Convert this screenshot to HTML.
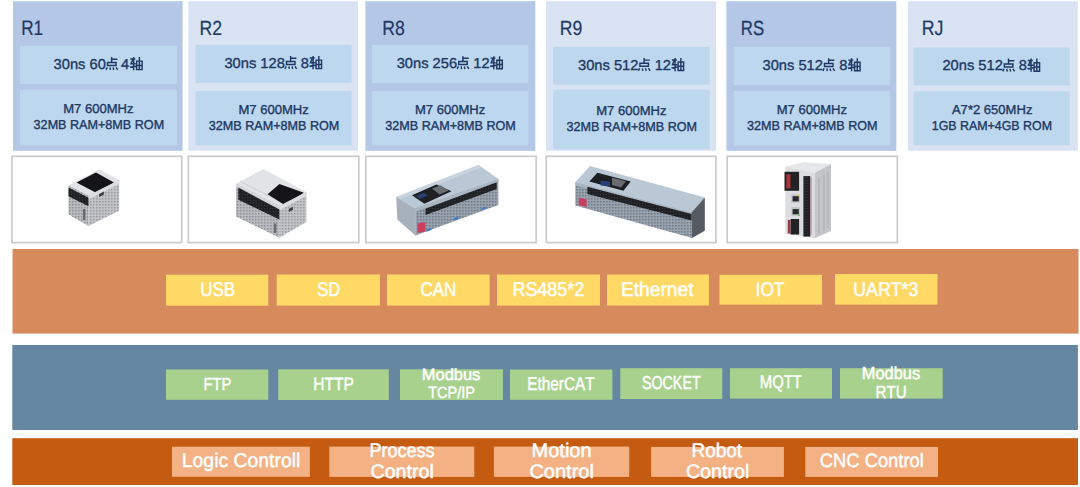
<!DOCTYPE html>
<html><head><meta charset="utf-8">
<style>
*{margin:0;padding:0}
html,body{width:1080px;height:487px;overflow:hidden;background:#fff}
svg{position:absolute;left:0;top:0;display:block}
text{font-family:"Liberation Sans",sans-serif;font-kerning:none;text-rendering:geometricPrecision}
.b{stroke:#203864;stroke-width:0.35px}
.t{stroke:#203864;stroke-width:0.2px}
.w{stroke:#fff;stroke-width:0.45px}
</style></head><body>
<svg width="1080" height="487" viewBox="0 0 1080 487">
<rect x="13.00" y="1.20" width="169.60" height="149.60" fill="#b4c7e7"/>
<rect x="20.00" y="45.90" width="157.00" height="38.00" fill="#bdd7ee"/>
<rect x="20.00" y="89.70" width="157.00" height="55.90" fill="#bdd7ee"/>
<rect x="188.30" y="1.20" width="169.70" height="149.60" fill="#dae3f3"/>
<rect x="195.60" y="44.80" width="156.10" height="38.20" fill="#bdd7ee"/>
<rect x="195.60" y="91.00" width="156.10" height="54.40" fill="#bdd7ee"/>
<rect x="365.40" y="1.20" width="169.90" height="149.60" fill="#b4c7e7"/>
<rect x="372.00" y="45.00" width="156.30" height="38.00" fill="#bdd7ee"/>
<rect x="372.00" y="91.00" width="156.30" height="54.60" fill="#bdd7ee"/>
<rect x="546.00" y="1.20" width="170.20" height="149.60" fill="#dae3f3"/>
<rect x="553.10" y="47.00" width="156.70" height="37.60" fill="#bdd7ee"/>
<rect x="553.10" y="89.70" width="156.70" height="59.70" fill="#bdd7ee"/>
<rect x="726.40" y="1.20" width="170.00" height="149.60" fill="#b4c7e7"/>
<rect x="733.70" y="47.00" width="156.50" height="38.00" fill="#bdd7ee"/>
<rect x="733.70" y="91.00" width="156.50" height="54.30" fill="#bdd7ee"/>
<rect x="908.10" y="1.20" width="169.70" height="149.60" fill="#dae3f3"/>
<rect x="913.70" y="47.50" width="156.10" height="37.90" fill="#bdd7ee"/>
<rect x="913.70" y="91.30" width="156.10" height="53.90" fill="#bdd7ee"/>
<rect x="11.95" y="156.3" width="169.80" height="86.3" fill="#fff" stroke="#cbcbcb" stroke-width="1.7"/>
<rect x="188.35" y="156.3" width="170.50" height="86.3" fill="#fff" stroke="#cbcbcb" stroke-width="1.7"/>
<rect x="365.85" y="156.3" width="170.30" height="86.3" fill="#fff" stroke="#cbcbcb" stroke-width="1.7"/>
<rect x="546.25" y="156.3" width="169.60" height="86.3" fill="#fff" stroke="#cbcbcb" stroke-width="1.7"/>
<rect x="727.15" y="156.3" width="170.20" height="86.3" fill="#fff" stroke="#cbcbcb" stroke-width="1.7"/>
<rect x="12.50" y="249.00" width="1066.00" height="84.60" fill="#d78b5d"/>
<rect x="12.30" y="345.00" width="1065.60" height="85.00" fill="#6587a2"/>
<rect x="12.30" y="438.20" width="1065.70" height="46.80" fill="#c55a11"/>
<rect x="166.00" y="274.70" width="102.30" height="31.00" fill="#ffd966"/>
<rect x="276.70" y="274.50" width="103.30" height="31.10" fill="#ffd966"/>
<rect x="387.00" y="274.50" width="102.60" height="31.10" fill="#ffd966"/>
<rect x="497.00" y="274.50" width="103.00" height="31.10" fill="#ffd966"/>
<rect x="607.00" y="274.50" width="102.00" height="31.00" fill="#ffd966"/>
<rect x="719.50" y="274.80" width="102.50" height="29.80" fill="#ffd966"/>
<rect x="835.00" y="274.00" width="102.50" height="30.60" fill="#ffd966"/>
<rect x="166.00" y="369.50" width="102.30" height="30.30" fill="#a9d18e"/>
<rect x="278.30" y="369.30" width="110.50" height="30.70" fill="#a9d18e"/>
<rect x="400.00" y="369.30" width="102.90" height="30.70" fill="#a9d18e"/>
<rect x="510.00" y="369.60" width="102.40" height="30.20" fill="#a9d18e"/>
<rect x="620.30" y="368.20" width="102.00" height="30.80" fill="#a9d18e"/>
<rect x="730.00" y="368.20" width="102.00" height="30.40" fill="#a9d18e"/>
<rect x="840.00" y="368.20" width="102.70" height="30.40" fill="#a9d18e"/>
<rect x="172.00" y="446.70" width="137.90" height="30.10" fill="#f4b183"/>
<rect x="329.30" y="446.60" width="145.00" height="30.30" fill="#f4b183"/>
<rect x="493.90" y="446.60" width="135.30" height="30.30" fill="#f4b183"/>
<rect x="651.10" y="446.90" width="132.80" height="30.00" fill="#f4b183"/>
<rect x="805.30" y="446.90" width="132.70" height="30.00" fill="#f4b183"/>
<defs>
<pattern id="gA" width="1.5" height="1.5" patternUnits="userSpaceOnUse"><rect width="1.5" height="1.5" fill="#c0c1c5"/><rect width="0.75" height="0.75" fill="#7c7e83"/></pattern>
<pattern id="gB" width="1.5" height="1.5" patternUnits="userSpaceOnUse"><rect width="1.5" height="1.5" fill="#c8c9cc"/><rect width="0.75" height="0.75" fill="#86888c"/></pattern>
<pattern id="gC" width="1.5" height="1.5" patternUnits="userSpaceOnUse"><rect width="1.5" height="1.5" fill="#9da8b4"/><rect width="0.75" height="0.75" fill="#5f6873"/></pattern>
<pattern id="tS" width="2.8" height="2.8" patternUnits="userSpaceOnUse"><rect width="2.8" height="2.8" fill="#1f2023"/><rect x="1" y="1" width="0.8" height="0.8" fill="#505256"/></pattern>
<linearGradient id="shd" x1="0" y1="0" x2="0" y2="1"><stop offset="0" stop-color="#000" stop-opacity="0.12"/><stop offset="1" stop-color="#000" stop-opacity="0"/></linearGradient>
</defs>
<g id="p1">
<polygon points="68.5,185.4 99.2,169.2 119.2,180 88.5,195.4" fill="#e2e3e6"/>
<polygon points="76.5,182.5 96,172.5 114,182.5 98,193.8" fill="#151517"/>
<polygon points="68.5,185.4 88.5,195.4 88.5,226 68.5,214.6" fill="url(#gA)"/>
<polygon points="88.5,195.4 119.2,180 119.2,210.8 88.5,226" fill="url(#gB)"/>
<polygon points="88.5,195.4 119.2,180 119.2,184 88.5,199.5" fill="#dcdde0"/>
<polygon points="68.5,187.4 88.5,197.7 88.5,206.2 68.5,196.2" fill="url(#tS)"/>
<rect x="99.2" y="194" width="4.6" height="3" fill="#3a3b3f" transform="skewY(-27) translate(0,50.5)"/>
<rect x="83" y="209" width="2.4" height="11" fill="#6a6b70"/>
</g>
<g id="p2">
<polygon points="236,183.7 263.6,169 306.3,191.9 279.4,206.1" fill="#e2e3e6"/>
<path d="M240.5,181.5L284,203.5" stroke="#c4c5c8" stroke-width="0.7" fill="none"/>
<polygon points="267.6,194.2 279.4,184 303.9,192.7 285,205.3" fill="#151517"/>
<polygon points="236,183.7 279.4,206.1 279.4,237.7 236,216.4" fill="url(#gA)"/>
<polygon points="279.4,206.1 306.3,191.9 306.3,221.9 279.4,237.7" fill="url(#gB)"/>
<polygon points="279.4,206.1 306.3,191.9 306.3,196 279.4,210.4" fill="#dcdde0"/>
<polygon points="236,183.7 279.4,206.1 279.4,209.2 236,187" fill="#d5d6d9"/>
<polygon points="238.3,187.6 279.4,209.6 279.4,219.5 238.3,199.8" fill="url(#tS)"/>
<polygon points="288.9,209 292.9,206.8 292.9,209.8 288.9,212" fill="#3a3b3f"/>
<rect x="273.9" y="223.5" width="2.4" height="9.5" fill="#6a6b70"/>
</g>
<g id="p3">
<polygon points="396.2,197 478.6,164.9 498.3,178.9 415.4,208.3" fill="#bac8d5"/>
<polygon points="396.2,197 478.6,164.9 482,167.3 399.5,199.3" fill="#c8d3de"/>
<polygon points="412,195.2 436.5,184.6 451.5,191.3 424.4,203.8" fill="#1e2024"/>
<polygon points="432,188.5 440.5,185.2 448.5,190.6 439.5,194.5" fill="#6a6d72"/><polygon points="416,196 424,192.8 428,195.5 420,199" fill="#2a3e70"/>
<polygon points="396.2,197 415.4,208.3 415.4,235.4 397.3,219.6" fill="#a6b1bc"/>
<polygon points="415.4,208.3 498.3,178.9 498.3,204.9 415.4,235.4" fill="url(#gC)"/>
<polygon points="415.4,208.3 498.3,178.9 498.3,182.3 415.4,211.7" fill="#a9b6c3"/>
<polygon points="425.5,208.7 496.7,182.3 496.7,189 425.5,215" fill="url(#tS)"/>
<polygon points="417.6,223.6 425.5,222 425.5,231.5 417.6,233.1" fill="#c8405e"/>
<polygon points="426.5,229.5 431.5,227.8 431.5,230 426.5,231.7" fill="#3b7fd0"/>
<polygon points="454,218.2 458.5,216.6 458.5,218.8 454,220.4" fill="#3b7fd0"/>
<polygon points="481.5,208 486,206.4 486,208.6 481.5,210.2" fill="#3b7fd0"/>
</g>
<g id="p4">
<polygon points="575.3,182.3 590,166 704.8,197.4 691.5,212.5" fill="#bac8d5"/>
<polygon points="589.4,181.4 597.4,172.7 630.7,181.4 623.4,190.7" fill="#1c1e22"/><polygon points="600.7,180.5 610,181.5 610,186.4 600.7,185.5" fill="#27407a"/><polygon points="612,177.5 626,181.3 621,187.5 612,185" fill="#686b70"/>
<polygon points="575.3,182.3 691.5,212.5 692,238 575.3,205.4" fill="url(#gC)"/>
<polygon points="575.3,182.3 691.5,212.5 691.5,215.5 575.3,185.5" fill="#a9b6c3"/>
<polygon points="691.5,212.5 704.8,197.4 704.8,230.7 692,238" fill="#565b62"/>
<polygon points="587.4,186.7 691.5,214 691.5,220.5 587.4,194" fill="url(#tS)"/>
<polygon points="578.7,197.5 586.6,199.5 586.6,207.1 578.7,205" fill="#c8405e"/>
</g>
<g id="p5">
<polygon points="785.3,166.6 803.4,162.3 831,164 814.7,172.7" fill="#e6e7e9"/>
<polygon points="785.3,166.6 814.7,172.7 814.7,238.3 785.3,233.8" fill="#dcdde0"/>
<polygon points="814.7,172.7 831,164 831,231 814.7,238.3" fill="#c4c5c8"/>
<path d="M819,178V233M824,175V231M828,172V228" stroke="#a5a6aa" stroke-width="0.8" fill="none"/>
<rect x="784.5" y="171.8" width="14.6" height="19" fill="#232325"/>
<rect x="786.3" y="174.3" width="4.2" height="14" fill="#a8343e"/>
<rect x="791.4" y="194.2" width="8.6" height="8.6" fill="#c3c4c7"/>
<rect x="792.6" y="196.2" width="6.2" height="5.2" fill="#2a2a2d"/>
<rect x="798.2" y="194.6" width="1.4" height="1.4" fill="#e8d040"/>
<rect x="791.4" y="207.1" width="8.6" height="8.7" fill="#c3c4c7"/>
<rect x="792.6" y="209.1" width="6.2" height="5.2" fill="#2a2a2d"/>
<rect x="798.2" y="214.6" width="1.4" height="1.4" fill="#4cb050"/>
<rect x="790.5" y="219" width="8.6" height="15.5" fill="#232325"/>
<rect x="787.8" y="220" width="2.5" height="13.5" fill="#9a3a40"/>
<rect x="803.4" y="176.1" width="6.9" height="60.5" fill="url(#tS)"/>
<rect x="810.6" y="177" width="1.2" height="58" fill="#d06a70" opacity="0.6"/>
</g>

<text transform="translate(21.19,34.60) scale(0.8260,1)" font-size="20.79" fill="#203864" class="t">R1</text>
<text transform="translate(53.57,68.93) scale(1.0200,1)" font-size="14.40" fill="#203864" class="b">30ns 60</text>
<path transform="translate(105.47,57.07)" d="M6.2,0V4.6M6.2,2.15H12M2.05,5.35H10.55V8.35H2.05ZM1.7,10.2L0.5,12.8M4.5,10.3L4.9,12.9M7.6,10.3L8.3,12.9M10.6,10.2L12.2,12.8" fill="none" stroke="#203864" stroke-width="1.45"/>
<text transform="translate(121.03,68.93) scale(1.0200,1)" font-size="14.40" fill="#203864" class="b">4</text>
<path transform="translate(129.97,57.07)" d="M0.3,1.95H5.4M2.7,2.6L1,6.7H5.7M3.65,0V13.2M0,10.1L5.9,9.1M6.65,4.05H12.15V12.55H6.65ZM9.4,0V12.55M6.65,8.35H12.15" fill="none" stroke="#203864" stroke-width="1.45"/>
<text transform="translate(63.23,113.35) scale(1.0084,1)" font-size="12.94" fill="#203864" class="b">M7 600MHz</text>
<text transform="translate(33.62,129.05) scale(0.9735,1)" font-size="12.94" fill="#203864" class="b">32MB RAM+8MB ROM</text>
<text transform="translate(199.55,34.60) scale(0.8607,1)" font-size="20.48" fill="#203864" class="t">R2</text>
<text transform="translate(224.42,67.93) scale(1.0200,1)" font-size="14.40" fill="#203864" class="b">30ns 128</text>
<path transform="translate(284.42,56.07)" d="M6.2,0V4.6M6.2,2.15H12M2.05,5.35H10.55V8.35H2.05ZM1.7,10.2L0.5,12.8M4.5,10.3L4.9,12.9M7.6,10.3L8.3,12.9M10.6,10.2L12.2,12.8" fill="none" stroke="#203864" stroke-width="1.45"/>
<text transform="translate(300.69,67.93) scale(1.0200,1)" font-size="14.40" fill="#203864" class="b">8</text>
<path transform="translate(309.42,56.07)" d="M0.3,1.95H5.4M2.7,2.6L1,6.7H5.7M3.65,0V13.2M0,10.1L5.9,9.1M6.65,4.05H12.15V12.55H6.65ZM9.4,0V12.55M6.65,8.35H12.15" fill="none" stroke="#203864" stroke-width="1.45"/>
<text transform="translate(238.38,113.90) scale(1.0084,1)" font-size="12.94" fill="#203864" class="b">M7 600MHz</text>
<text transform="translate(208.77,129.60) scale(0.9735,1)" font-size="12.94" fill="#203864" class="b">32MB RAM+8MB ROM</text>
<text transform="translate(382.15,34.60) scale(0.8640,1)" font-size="20.48" fill="#203864" class="t">R8</text>
<text transform="translate(396.68,68.03) scale(1.0200,1)" font-size="14.40" fill="#203864" class="b">30ns 256</text>
<path transform="translate(456.68,56.17)" d="M6.2,0V4.6M6.2,2.15H12M2.05,5.35H10.55V8.35H2.05ZM1.7,10.2L0.5,12.8M4.5,10.3L4.9,12.9M7.6,10.3L8.3,12.9M10.6,10.2L12.2,12.8" fill="none" stroke="#203864" stroke-width="1.45"/>
<text transform="translate(473.36,68.03) scale(1.0200,1)" font-size="14.40" fill="#203864" class="b">12</text>
<path transform="translate(490.16,56.17)" d="M0.3,1.95H5.4M2.7,2.6L1,6.7H5.7M3.65,0V13.2M0,10.1L5.9,9.1M6.65,4.05H12.15V12.55H6.65ZM9.4,0V12.55M6.65,8.35H12.15" fill="none" stroke="#203864" stroke-width="1.45"/>
<text transform="translate(414.88,114.00) scale(1.0084,1)" font-size="12.94" fill="#203864" class="b">M7 600MHz</text>
<text transform="translate(385.27,129.70) scale(0.9735,1)" font-size="12.94" fill="#203864" class="b">32MB RAM+8MB ROM</text>
<text transform="translate(559.75,34.60) scale(0.8627,1)" font-size="20.48" fill="#203864" class="t">R9</text>
<text transform="translate(577.98,69.83) scale(1.0200,1)" font-size="14.40" fill="#203864" class="b">30ns 512</text>
<path transform="translate(637.88,57.97)" d="M6.2,0V4.6M6.2,2.15H12M2.05,5.35H10.55V8.35H2.05ZM1.7,10.2L0.5,12.8M4.5,10.3L4.9,12.9M7.6,10.3L8.3,12.9M10.6,10.2L12.2,12.8" fill="none" stroke="#203864" stroke-width="1.45"/>
<text transform="translate(654.66,69.83) scale(1.0200,1)" font-size="14.40" fill="#203864" class="b">12</text>
<path transform="translate(671.46,57.97)" d="M0.3,1.95H5.4M2.7,2.6L1,6.7H5.7M3.65,0V13.2M0,10.1L5.9,9.1M6.65,4.05H12.15V12.55H6.65ZM9.4,0V12.55M6.65,8.35H12.15" fill="none" stroke="#203864" stroke-width="1.45"/>
<text transform="translate(596.18,115.25) scale(1.0084,1)" font-size="12.94" fill="#203864" class="b">M7 600MHz</text>
<text transform="translate(566.57,130.95) scale(0.9735,1)" font-size="12.94" fill="#203864" class="b">32MB RAM+8MB ROM</text>
<text transform="translate(740.82,34.60) scale(0.8208,1)" font-size="20.48" fill="#203864" class="t">RS</text>
<text transform="translate(762.52,70.03) scale(1.0200,1)" font-size="14.40" fill="#203864" class="b">30ns 512</text>
<path transform="translate(822.42,58.17)" d="M6.2,0V4.6M6.2,2.15H12M2.05,5.35H10.55V8.35H2.05ZM1.7,10.2L0.5,12.8M4.5,10.3L4.9,12.9M7.6,10.3L8.3,12.9M10.6,10.2L12.2,12.8" fill="none" stroke="#203864" stroke-width="1.45"/>
<text transform="translate(839.19,70.03) scale(1.0200,1)" font-size="14.40" fill="#203864" class="b">8</text>
<path transform="translate(847.92,58.17)" d="M0.3,1.95H5.4M2.7,2.6L1,6.7H5.7M3.65,0V13.2M0,10.1L5.9,9.1M6.65,4.05H12.15V12.55H6.65ZM9.4,0V12.55M6.65,8.35H12.15" fill="none" stroke="#203864" stroke-width="1.45"/>
<text transform="translate(776.68,113.85) scale(1.0084,1)" font-size="12.94" fill="#203864" class="b">M7 600MHz</text>
<text transform="translate(747.07,129.55) scale(0.9735,1)" font-size="12.94" fill="#203864" class="b">32MB RAM+8MB ROM</text>
<text transform="translate(921.75,34.60) scale(0.8531,1)" font-size="20.79" fill="#203864" class="t">RJ</text>
<text transform="translate(942.44,70.48) scale(1.0200,1)" font-size="14.40" fill="#203864" class="b">20ns 512</text>
<path transform="translate(1002.33,58.62)" d="M6.2,0V4.6M6.2,2.15H12M2.05,5.35H10.55V8.35H2.05ZM1.7,10.2L0.5,12.8M4.5,10.3L4.9,12.9M7.6,10.3L8.3,12.9M10.6,10.2L12.2,12.8" fill="none" stroke="#203864" stroke-width="1.45"/>
<text transform="translate(1018.70,70.48) scale(1.0200,1)" font-size="14.40" fill="#203864" class="b">8</text>
<path transform="translate(1027.43,58.62)" d="M0.3,1.95H5.4M2.7,2.6L1,6.7H5.7M3.65,0V13.2M0,10.1L5.9,9.1M6.65,4.05H12.15V12.55H6.65ZM9.4,0V12.55M6.65,8.35H12.15" fill="none" stroke="#203864" stroke-width="1.45"/>
<text transform="translate(951.92,113.95) scale(1.0083,1)" font-size="12.94" fill="#203864" class="b">A7*2 650MHz</text>
<text transform="translate(931.81,129.65) scale(0.9579,1)" font-size="12.94" fill="#203864" class="b">1GB RAM+4GB ROM</text>
<text transform="translate(200.29,295.60) scale(0.8561,1)" font-size="19.77" fill="#fff" class="w">USB</text>
<text transform="translate(317.15,295.60) scale(0.8354,1)" font-size="19.77" fill="#fff" class="w">SD</text>
<text transform="translate(420.54,295.60) scale(0.8589,1)" font-size="19.77" fill="#fff" class="w">CAN</text>
<text transform="translate(512.43,295.60) scale(0.9083,1)" font-size="19.77" fill="#fff" class="w">RS485*2</text>
<text transform="translate(620.92,295.60) scale(0.9717,1)" font-size="19.77" fill="#fff" class="w">Ethernet</text>
<text transform="translate(755.61,295.60) scale(0.8740,1)" font-size="19.77" fill="#fff" class="w">IOT</text>
<text transform="translate(853.33,295.60) scale(0.8958,1)" font-size="19.77" fill="#fff" class="w">UART*3</text>
<text transform="translate(203.49,389.50) scale(0.8466,1)" font-size="17.44" fill="#fff" class="w">FTP</text>
<text transform="translate(313.32,389.70) scale(0.8768,1)" font-size="17.73" fill="#fff" class="w">HTTP</text>
<text transform="translate(527.34,389.60) scale(0.8293,1)" font-size="18.46" fill="#fff" class="w">EtherCAT</text>
<text transform="translate(641.95,388.50) scale(0.7611,1)" font-size="18.75" fill="#fff" class="w">SOCKET</text>
<text transform="translate(759.78,388.30) scale(0.8173,1)" font-size="18.17" fill="#fff" class="w">MQTT</text>
<text transform="translate(421.75,379.80) scale(1.0126,1)" font-size="16.28" fill="#fff" class="w">Modbus</text>
<text transform="translate(428.27,397.60) scale(0.8900,1)" font-size="16.28" fill="#fff" class="w">TCP/IP</text>
<text transform="translate(861.85,379.10) scale(0.9401,1)" font-size="17.44" fill="#fff" class="w">Modbus</text>
<text transform="translate(875.56,397.60) scale(0.8577,1)" font-size="17.59" fill="#fff" class="w">RTU</text>
<text transform="translate(181.81,467.00) scale(0.9803,1)" font-size="19.77" fill="#fff" class="w">Logic Controll</text>
<text transform="translate(369.42,456.80) scale(0.9121,1)" font-size="19.77" fill="#fff" class="w">Process</text>
<text transform="translate(370.50,477.50) scale(1.0083,1)" font-size="19.48" fill="#fff" class="w">Control</text>
<text transform="translate(531.56,456.80) scale(1.0119,1)" font-size="19.77" fill="#fff" class="w">Motion</text>
<text transform="translate(529.38,477.50) scale(1.0282,1)" font-size="19.48" fill="#fff" class="w">Control</text>
<text transform="translate(691.44,456.80) scale(0.9611,1)" font-size="19.77" fill="#fff" class="w">Robot</text>
<text transform="translate(685.90,477.50) scale(1.0116,1)" font-size="19.48" fill="#fff" class="w">Control</text>
<text transform="translate(819.87,467.00) scale(0.9486,1)" font-size="19.33" fill="#fff" class="w">CNC Control</text>
</svg>
</body></html>
